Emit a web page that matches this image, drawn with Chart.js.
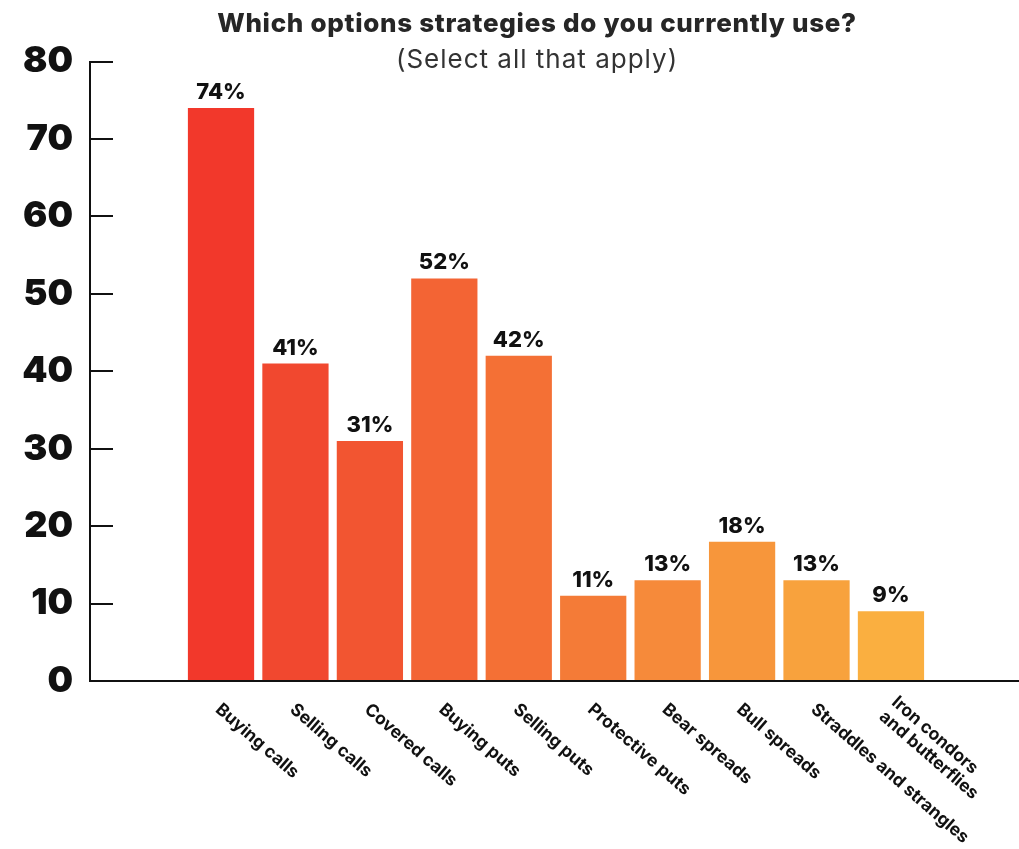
<!DOCTYPE html>
<html>
<head>
<meta charset="utf-8">
<title>Options strategies</title>
<script src="https://cdn.jsdelivr.net/npm/chart.js@4/dist/chart.umd.min.js"></script>
<style>
  html, body { margin: 0; padding: 0; background: #fff; }
  #wrap { width: 1019px; height: 849px; position: relative; }
</style>
</head>
<body>
<div id="wrap"><canvas id="strategyChart"></canvas></div>
<script>
// Survey answers (share of respondents, %)
const categories = [
  "Buying calls", "Selling calls", "Covered calls", "Buying puts", "Selling puts",
  "Protective puts", "Bear spreads", "Bull spreads", "Straddles and strangles",
  ["Iron condors", "and butterflies"]
];
const shares = [74, 41, 31, 52, 42, 11, 13, 18, 13, 9];
const barColors = [
  "#F2382B", "#F1482F", "#F25531", "#F36434", "#F47035",
  "#F47B37", "#F68A3A", "#F7963B", "#F8A23D", "#FAAF40"
];
const yTicks = [0, 10, 20, 30, 40, 50, 60, 70, 80];
const titleText = "Which options strategies do you currently use?";
const subtitleText = "(Select all that apply)";

const FONT = "Inter, 'DejaVu Sans', sans-serif";
Chart.defaults.font.family = FONT;

// title + subtitle, centred a little right of the canvas middle
const heading = {
  id: "heading",
  afterDraw(chart) {
    const { ctx } = chart;
    const cx = chart.width * 0.527;
    ctx.save();
    ctx.textAlign = "center";
    ctx.textBaseline = "alphabetic";
    ctx.fillStyle = "#262626";
    ctx.font = "800 26px " + FONT;
    ctx.letterSpacing = "0.7px";
    ctx.fillText(titleText, cx, 32);
    ctx.fillStyle = "#333";
    ctx.font = "400 26px " + FONT;
    ctx.letterSpacing = "1px";
    ctx.fillText(subtitleText, cx, 68);
    ctx.restore();
  }
};

// "74%" etc. above each bar
const valueLabels = {
  id: "valueLabels",
  afterDatasetsDraw(chart) {
    const { ctx } = chart;
    const meta = chart.getDatasetMeta(0);
    ctx.save();
    ctx.font = "800 22px " + FONT;
    ctx.fillStyle = "#111";
    ctx.textAlign = "center";
    ctx.textBaseline = "alphabetic";
    meta.data.forEach((bar, i) => {
      ctx.fillText(shares[i] + "%", bar.x, bar.y - 9);
    });
    ctx.restore();
  }
};

// category names slanting down to the right under the axis
const slantedLabels = {
  id: "slantedLabels",
  afterDraw(chart) {
    const { ctx, chartArea } = chart;
    const xScale = chart.scales.x;
    ctx.save();
    ctx.font = "700 17.5px " + FONT;
    ctx.fillStyle = "#111";
    ctx.textAlign = "left";
    ctx.textBaseline = "middle";
    categories.forEach((label, i) => {
      const lines = [].concat(label);
      ctx.save();
      ctx.translate(xScale.getPixelForValue(i) - 3, chartArea.bottom + 26);
      ctx.rotate(41 * Math.PI / 180);
      lines.forEach((line, j) => {
        ctx.fillText(line, 0, (j - (lines.length - 1) / 2) * 19);
      });
      ctx.restore();
    });
    ctx.restore();
  }
};

new Chart(document.getElementById("strategyChart"), {
  type: "bar",
  data: {
    datasets: [
      {
        data: shares.map((v, i) => ({ x: i, y: v })),
        backgroundColor: barColors,
        borderWidth: 0,
        categoryPercentage: 1,
        barPercentage: 0.89,
      },
    ],
  },
  options: {
    responsive: true,
    maintainAspectRatio: false,
    animation: false,
    layout: { padding: { top: 60, right: 0, bottom: 168, left: 0 } },
    plugins: {
      legend: { display: false },
      tooltip: { enabled: false },
    },
    scales: {
      x: {
        type: "linear",
        offset: false,
        min: -1.76,
        max: 10.72,
        ticks: { display: false, stepSize: 1, includeBounds: false },
        grid: { display: false, drawTicks: false, offset: false },
        border: { display: true, color: "#111", width: 2 },
      },
      y: {
        min: yTicks[0],
        max: yTicks[yTicks.length - 1],
        ticks: {
          stepSize: yTicks[1] - yTicks[0],
          padding: 40,
          color: "#111",
          font: { size: 36, weight: 900 },
        },
        grid: { drawOnChartArea: false, drawTicks: true, tickLength: -23, color: "#111", lineWidth: 2 },
        border: { display: true, color: "#111", width: 2 },
        afterFit(scale) { scale.width = 90; },
      },
    },
  },
  plugins: [heading, valueLabels, slantedLabels],
});
</script>
</body>
</html>
